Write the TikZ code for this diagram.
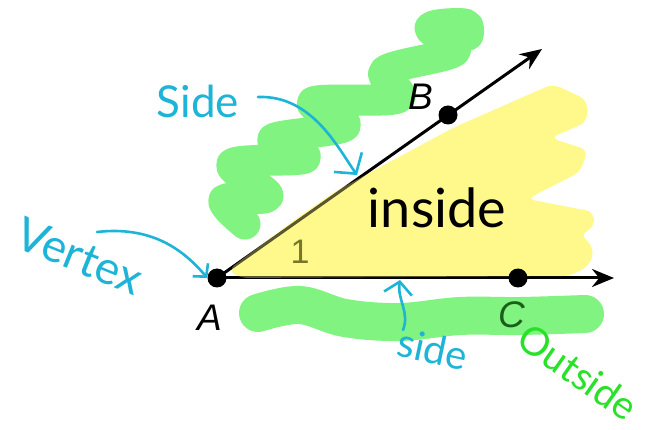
\documentclass[tikz,border=0pt]{standalone}
\usepackage{fontspec}
\usetikzlibrary{arrows.meta}
\newfontfamily\labfont{Liberation Sans}
\newfontfamily\handfont{Lato}
\definecolor{hlyellow}{RGB}{255,249,140}
\definecolor{hlgreen}{RGB}{128,243,128}
\definecolor{penblue}{RGB}{30,180,215}
\definecolor{pengreen}{RGB}{40,225,40}
\definecolor{oliveone}{RGB}{120,118,40}
\definecolor{darkC}{RGB}{25,95,25}
\def\yellowpath{(228,270) -- (300,216) -- (336,191) -- (453,128) -- (553,84) -- (587,100) -- (587,122) -- (550,138) -- (588,150) -- (580,172) -- (527,199) -- (594,212) -- (594,228) -- (580,234) -- (594,248) -- (590,265) -- (570,276) -- (240,278)}
\begin{document}
\begin{tikzpicture}[x=1pt,y=-1pt,
  ray/.style={line width=3pt, -{Stealth[length=22pt,width=18pt]}},
  dot/.style={circle, fill=black, inner sep=0pt, minimum size=19pt},
  ptlabel/.style={font=\labfont\itshape\fontsize{37}{37}\selectfont, inner sep=0pt},
  hand/.style={font=\handfont\fontsize{#1}{#1}\selectfont, inner sep=0pt},
  pen/.style={penblue, line width=2.6pt, line cap=round, line join=round},
  marker/.style={hlgreen, line width=#1, line cap=round, line join=round},
]
\useasboundingbox (0,0) rectangle (648,430);
\fill[white] (0,0) rectangle (648,430);

% green highlighter bands
\draw[marker=31pt] plot[smooth, tension=0.55] coordinates {(245,224) (224,200) (268,196) (232,164) (305,158) (273,139) (345,126) (313,102) (398,98) (385,71) (455,51) (430,28) (465,24) (468,35)};
\draw[marker=38pt] plot[smooth, tension=0.6] coordinates {(258,313) (300,305) (345,318) (400,322) (460,316) (520,316) (585,314)};

% yellow highlighter
\fill[hlyellow, rounded corners=8pt] \yellowpath -- cycle;

% rays
\coordinate (Bend) at (542,49);
\coordinate (Cend) at (614,278);
\coordinate (Apt) at (217,278);
\draw[ray] (Apt) -- (Bend);
\draw[ray] (Apt) -- (Cend);
\fill[hlyellow, opacity=0.35, rounded corners=8pt] \yellowpath -- cycle;
\node[dot] (A) at (Apt) {};
\node[dot] (B) at (448,115) {};
\node[dot] (C) at (518,278) {};

% point labels
\node[ptlabel] (la) at (210,318) {A};
\node[ptlabel] (lb) at (421,97) {B};
\node[ptlabel, text=darkC] (lc) at (512,315) {C};
\node[font=\labfont\fontsize{34}{34}\selectfont, inner sep=0pt, text=oliveone] (one) at (300,252) {1};

% handwritten notes
\node[hand=44, text=penblue] (side1) at (198,101) {Side};
\coordinate (s1a) at (258,97);
\coordinate (s1b) at (357,175);
\draw[pen, -{Straight Barb[length=14pt,width=34pt]}] (s1a) .. controls (312,95) and (338,148) .. (s1b);

\node[hand=46, text=penblue, rotate=-22] (vertex) at (80,256) {Vertex};
\coordinate (v1) at (97,232);
\draw[pen, -{Straight Barb[length=9pt,width=20pt]}] (v1) .. controls (150,226) and (182,248) .. (A.west);

\node[hand=40, text=penblue, rotate=-12] (side2) at (433,349) {side};
\coordinate (s2a) at (403,330);
\coordinate (s2b) at (400,280);
\draw[pen, -{Straight Barb[length=12pt,width=28pt]}] (s2a) .. controls (410,312) and (397,300) .. (s2b);

\node[hand=54, text=black] (inside) at (437,208) {inside};
\node[hand=39, text=pengreen, rotate=-35] (outside) at (578,372) {Outside};
\end{tikzpicture}
\end{document}
